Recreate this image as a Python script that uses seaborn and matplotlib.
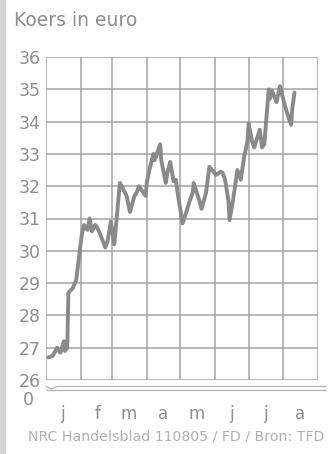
import pandas as pd
import numpy as np
import matplotlib
matplotlib.use('Agg')
import matplotlib.pyplot as plt
import matplotlib.dates as mdates
import seaborn as sns

# koers (euro), 2005
dates = ['2005-01-03', '2005-01-07', '2005-01-11', '2005-01-14', '2005-01-17', '2005-01-18',
         '2005-01-20', '2005-01-21', '2005-01-25', '2005-01-28', '2005-02-02', '2005-02-04',
         '2005-02-07', '2005-02-09', '2005-02-11', '2005-02-14', '2005-02-16', '2005-02-18',
         '2005-02-23', '2005-02-25', '2005-02-28', '2005-03-03', '2005-03-08', '2005-03-11',
         '2005-03-14', '2005-03-17', '2005-03-21', '2005-03-23', '2005-03-25', '2005-03-31',
         '2005-04-01', '2005-04-04', '2005-04-07', '2005-04-08', '2005-04-13', '2005-04-14',
         '2005-04-18', '2005-04-20', '2005-04-22', '2005-04-25', '2005-04-27', '2005-04-29',
         '2005-05-03', '2005-05-05', '2005-05-09', '2005-05-12', '2005-05-13', '2005-05-18',
         '2005-05-20', '2005-05-24', '2005-05-27', '2005-06-02', '2005-06-06', '2005-06-08',
         '2005-06-10', '2005-06-13', '2005-06-14', '2005-06-17', '2005-06-21', '2005-06-24',
         '2005-06-27', '2005-06-30', '2005-07-01', '2005-07-04', '2005-07-06', '2005-07-11',
         '2005-07-13', '2005-07-15', '2005-07-19', '2005-07-20', '2005-07-22', '2005-07-26',
         '2005-07-29', '2005-08-02', '2005-08-05', '2005-08-08', '2005-08-09', '2005-08-11']
koers = [26.7, 26.75, 27.0, 26.85, 27.2, 26.9,
         27.0, 28.7, 28.85, 29.1, 30.5, 30.8,
         30.65, 31.0, 30.6, 30.8, 30.7, 30.55,
         30.1, 30.3, 30.9, 30.2, 32.1, 31.9,
         31.7, 31.2, 31.7, 31.8, 32.0, 31.7,
         32.1, 32.6, 33.0, 32.8, 33.3, 32.8,
         32.1, 32.5, 32.75, 32.15, 32.2, 31.7,
         30.85, 31.05, 31.5, 31.8, 32.1, 31.55,
         31.3, 31.8, 32.6, 32.35, 32.45, 32.4,
         32.2, 31.55, 30.95, 31.55, 32.5, 32.2,
         32.9, 33.4, 33.95, 33.4, 33.2, 33.75,
         33.2, 33.3, 35.0, 34.7, 34.95, 34.6,
         35.1, 34.55, 34.2, 33.9, 34.4, 34.9]

yticks = list(range(26, 37))
month_labels = ['j', 'f', 'm', 'a', 'm', 'j', 'j', 'a']

df = pd.DataFrame({'datum': pd.to_datetime(dates), 'koers': koers})

sns.set_style('white')
plt.rcParams['font.family'] = ['DejaVu Sans']

grey_txt = '#8e8e8e'
grey_grid = '#a3a3a3'

fig = plt.figure(figsize=(3.28, 4.54), dpi=100)
fig.patch.set_facecolor('white')
ax = fig.add_axes([46 / 328, 1 - 380 / 454, 272 / 328, 323 / 454])

sns.lineplot(data=df, x='datum', y='koers', ax=ax, color='#8a8a8a', linewidth=2.8)

ax.set_xlim(pd.Timestamp('2005-01-01'), pd.Timestamp('2005-09-01'))
ax.set_ylim(26, 36)
ax.set_yticks(yticks)
ax.set_yticklabels([str(t) for t in yticks])

# grid at month starts, labels mid-month
ax.xaxis.set_major_locator(mdates.MonthLocator())
ax.xaxis.set_major_formatter(matplotlib.ticker.NullFormatter())
ax.xaxis.set_minor_locator(mdates.MonthLocator(bymonthday=16))
ax.xaxis.set_minor_formatter(matplotlib.ticker.FixedFormatter(month_labels))
ax.grid(True, which='major', color=grey_grid, linewidth=1.1)
ax.tick_params(axis='both', which='both', length=0)
ax.tick_params(axis='y', labelsize=12.5, labelcolor=grey_txt, pad=4)
ax.tick_params(axis='x', which='minor', labelsize=12, labelcolor=grey_txt, pad=18)
for s in ax.spines.values():
    s.set_visible(False)
ax.set_xlabel('')
ax.set_ylabel('')
ax.set_axisbelow(True)

# axis break and the zero label
tr = ax.get_yaxis_transform()
ax.plot([0.0, 0.02, 0.04, 1.03], [25.8, 25.72, 25.8, 25.8], transform=tr,
        color='#b5b5b5', linewidth=0.9, clip_on=False)
ax.plot([0.0, 1.03], [25.68, 25.68], transform=tr,
        color='#b5b5b5', linewidth=0.9, clip_on=False)
ax.text(-0.045, 25.38, '0', transform=tr, ha='right', va='center',
        fontsize=12.5, color=grey_txt, clip_on=False)

fig.text(14 / 328, 1 - 20 / 454, 'Koers in euro', fontsize=13.5, color=grey_txt,
         ha='left', va='center')
fig.text(324 / 328, 1 - 437 / 454, 'NRC Handelsblad 110805 / FD / Bron: TFD',
         fontsize=10.2, color='#b0b0b0', ha='right', va='center')

# grey strip on the left edge
fig.patches.append(matplotlib.patches.Rectangle((0, 0), 6 / 328, 1, transform=fig.transFigure,
                                                 facecolor='#d4d4d4', edgecolor='none'))

fig.savefig('out.png', dpi=100, facecolor='white')
